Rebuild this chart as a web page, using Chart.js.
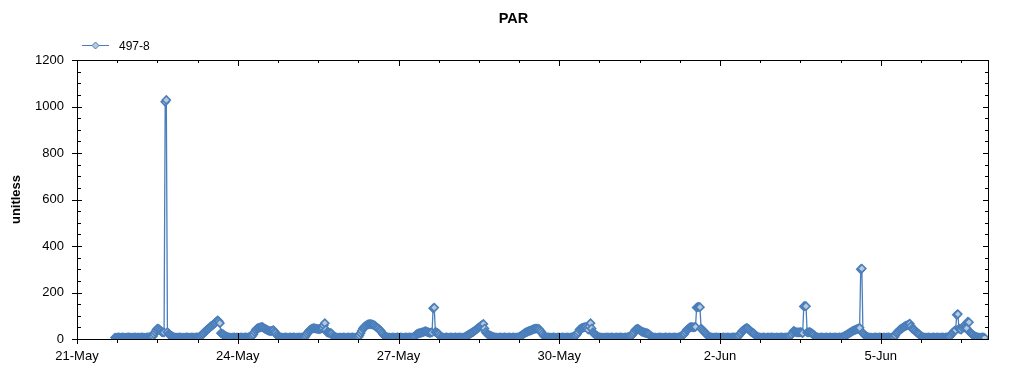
<!DOCTYPE html>
<html>
<head>
<meta charset="utf-8">
<script src="https://cdn.jsdelivr.net/npm/chart.js@4.4.1/dist/chart.umd.min.js"></script>
<style>
  html, body { margin: 0; padding: 0; background: #ffffff; }
  canvas { display: block; }
</style>
</head>
<body>
<canvas id="c" width="1024" height="375"></canvas>
<script>
// ---- data: half-hourly PAR readings (unitless), one array per day ----
// may21 starts at 17:00; every other day starts at 00:00; step = 30 min
const may21 = [6,5,6,7,6,5,6,7,6,5,6,6,7,6];
const may22 = [6,5,6,6,7,5,6,6,5,6,7,6, 6,5,6,7,6,8,8,9,
               12,20,30,38,45,44,40,35,30,28,28,1020, 1028,30,22,18,15,12,9,7,
               6,6,5,6,7,6,5,6];
const may23 = [5,6,7,6,6,5,6,7,6,5,6,7,6,7,
               10,14,18,22,28,33,38,42,45,50,55,58,62,66,70,75,80,76,68,25,22,20,16,12,10,8,
               7,6,5,6,6,7,5,6];
const may24 = [6,5,6,7,6,5,6,7,6,6,
               8,9,10,14,20,30,38,44,47,48,50,51,52,48,45,42,40,37,35,34,34,36,38,32,26,18,12,9,7,6,
               6,5,6,7,6,5,6,7];
const may25 = [5,6,7,6,5,6,6,7,5,6,7,6,
               8,14,22,30,35,40,43,45,47,46,45,44,42,43,44,46,48,58,68,40,28,27,26,25,24,16,10,8,
               7,6,5,6,6,5,6,7];
const may26 = [6,5,6,7,5,6,6,7,6,5,6,7,
               8,15,25,35,45,50,55,58,62,63,64,64,63,62,60,56,52,48,45,40,35,28,22,16,12,9,7,6,
               6,5,6,7,6,5,6,7];
const may27 = [6,5,7,6,5,6,6,7,5,6,7,6,6,7,
               10,15,20,22,24,25,26,28,30,32,34,32,30,28,26,27,28,132,135,30,28,25,22,15,8,7,
               6,5,6,7,6,5,6,7];
const may28 = [6,5,6,7,5,6,6,7,6,5,6,7,
               10,13,16,19,22,25,28,31,35,38,42,46,50,53,57,61,65,45,30,24,20,17,15,12,10,8,7,6,
               6,5,6,7,6,5,6,7];
const may29 = [6,5,6,7,6,5,6,7,5,6,6,7,
               8,12,15,18,22,25,28,30,33,35,36,38,40,42,44,45,45,44,42,36,30,22,15,11,8,7,7,6,
               6,5,6,7,6,5,6,7];
const may30 = [6,5,6,7,5,6,6,7,6,5,6,7,
               8,10,12,16,22,30,40,44,47,48,50,51,52,46,40,55,68,45,28,24,20,16,12,9,7,6,6,5,
               6,5,7,6,6,5,6,7];
const may31 = [6,5,6,7,5,6,6,7,6,5,6,7,6,7,
               8,10,12,16,22,30,38,42,44,42,38,35,32,30,28,26,25,24,22,17,12,9,7,6,6,5,
               5,6,7,6,6,5,6,7];
const jun01 = [6,5,6,7,5,6,6,7,6,5,6,7,
               8,11,15,18,22,30,38,42,46,50,52,51,50,51,52,135,137,138,137,45,40,35,30,25,20,15,10,8,
               7,6,5,6,6,7,5,6];
const jun02 = [6,5,6,7,5,6,6,7,6,5,6,7,6,7,6,6,
               10,15,22,28,35,38,42,45,48,45,40,35,30,27,25,20,15,11,8,7,
               6,5,6,7,6,5,6,7,5,6,7,6];
const jun03 = [6,5,6,7,5,6,6,7,6,5,6,7,6,7,
               10,15,20,28,35,32,30,29,28,29,30,28,25,140,142,141,28,29,30,28,25,22,18,12,8,7,
               6,5,6,7,6,5,6,7];
const jun04 = [6,5,6,7,5,6,6,7,6,5,6,7,6,7,
               8,11,14,17,20,23,26,29,32,35,37,39,41,43,45,48,300,303,25,20,15,11,8,7,6,6,
               6,5,6,7,6,5,6,7];
const jun05 = [6,5,6,7,5,6,6,7,6,5,6,7,
               8,15,25,30,35,40,43,46,50,53,56,58,60,63,66,55,45,42,40,34,28,25,22,17,12,9,7,6,
               6,5,6,7,6,5,6,7];
const jun06 = [6,5,6,7,5,6,6,7,6,5,6,7,
               6,8,12,18,25,30,35,38,104,107,45,42,40,48,55,50,48,46,75,72,28,24,20,16,12,10,8,7,
               6,5,6,7,6,5];

const dailySeries = [may21, may22, may23, may24, may25, may26, may27, may28, may29,
                     may30, may31, jun01, jun02, jun03, jun04, jun05, jun06];
const firstDayStartHour = 17;
const sampleStepHours = 0.5;
const seriesLabel = '497-8';
const chartTitle = 'PAR';
const yAxisTitle = 'unitless';
const xTickLabels = ['21-May', '24-May', '27-May', '30-May', '2-Jun', '5-Jun'];
const xMaxHours = 17 * 24;   // 21-May 00:00 .. 7-Jun 00:00
const xLabelStep = 72;       // every 3 days
const xMinorStep = 18;       // minor ticks
const yMax = 1200, yLabelStep = 200, yMinorStep = 50;

// ---- build points (x = hours since 21-May 00:00) ----
const points = [];
dailySeries.forEach((day, d) => {
  const start = d === 0 ? firstDayStartHour : 0;
  day.forEach((v, i) => { if (v !== null) points.push({ x: d * 24 + start + i * sampleStepHours, y: v }); });
});

const LINE = '#4a7ebb';
const FILL = '#b7c9da';
const FONT = '"Liberation Sans", Arial, sans-serif';

const decor = {
  id: 'decor',
  afterDraw(chart) {
    const ctx = chart.ctx;
    const a = chart.chartArea;
    const xs = chart.scales.x, ys = chart.scales.y;
    const L = a.left + 0.5, R = a.right + 0.5, T = a.top + 0.5, B = a.bottom + 0.5;
    ctx.save();
    ctx.strokeStyle = '#000';
    ctx.lineWidth = 1;
    ctx.beginPath();
    ctx.rect(L, T, R - L, B - T);
    for (let v = 0; v <= yMax; v += yMinorStep) {
      const py = Math.round(ys.getPixelForValue(v)) + 0.5;
      const major = v % yLabelStep === 0;
      if (major) {
        ctx.moveTo(a.left - 5, py); ctx.lineTo(a.left + 5, py);
        ctx.moveTo(a.right - 5, py); ctx.lineTo(a.right + 1, py);
      } else {
        ctx.moveTo(a.left, py); ctx.lineTo(a.left + 4, py);
        ctx.moveTo(a.right - 3, py); ctx.lineTo(a.right + 1, py);
      }
    }
    for (let v = 0; v <= xMaxHours; v += xMinorStep) {
      const px = Math.round(xs.getPixelForValue(v)) + 0.5;
      const major = v % xLabelStep === 0;
      if (major) {
        ctx.moveTo(px, a.bottom - 6); ctx.lineTo(px, a.bottom + 5);
        ctx.moveTo(px, a.top); ctx.lineTo(px, a.top + 6);
      } else {
        ctx.moveTo(px, a.bottom); ctx.lineTo(px, a.bottom + 4);
        ctx.moveTo(px, a.top); ctx.lineTo(px, a.top + 3);
      }
    }
    ctx.stroke();

    ctx.fillStyle = '#000';
    ctx.font = 'bold 14.5px ' + FONT;
    ctx.textAlign = 'center';
    ctx.textBaseline = 'alphabetic';
    ctx.fillText(chartTitle, 513.5, 22.5);

    ctx.strokeStyle = LINE;
    ctx.beginPath();
    ctx.moveTo(82, 45.5); ctx.lineTo(109, 45.5);
    ctx.stroke();
    const cx = 95.5, cy = 45.5, r = 3.5;
    ctx.beginPath();
    ctx.moveTo(cx - r, cy); ctx.lineTo(cx, cy - r); ctx.lineTo(cx + r, cy); ctx.lineTo(cx, cy + r);
    ctx.closePath();
    ctx.fillStyle = FILL; ctx.fill();
    ctx.strokeStyle = LINE; ctx.stroke();
    ctx.fillStyle = '#000';
    ctx.font = '12px ' + FONT;
    ctx.textAlign = 'left';
    ctx.fillText(seriesLabel, 119, 50);
    ctx.restore();
  }
};

new Chart(document.getElementById('c'), {
  type: 'line',
  data: {
    datasets: [{
      label: seriesLabel,
      data: points,
      borderColor: LINE,
      borderWidth: 1.3,
      pointStyle: 'rectRot',
      pointRadius: 4,
      pointBackgroundColor: FILL,
      pointBorderColor: LINE,
      pointBorderWidth: 1.6,
      tension: 0,
      fill: false
    }]
  },
  options: {
    responsive: false,
    animation: false,
    devicePixelRatio: 1,
    layout: { padding: { top: 60, right: 36, bottom: 0, left: 0 } },
    plugins: { legend: { display: false }, title: { display: false }, tooltip: { enabled: false } },
    scales: {
      x: {
        type: 'linear',
        min: 0,
        max: xMaxHours,
        afterFit: s => { s.height = 36; },
        grid: { display: false, drawTicks: false },
        border: { display: false },
        ticks: {
          stepSize: xLabelStep,
          autoSkip: false,
          maxRotation: 0,
          padding: 10,
          color: '#000',
          font: { family: FONT, size: 13 },
          callback: v => (v % xLabelStep === 0 && v / xLabelStep < xTickLabels.length) ? xTickLabels[v / xLabelStep] : ''
        }
      },
      y: {
        min: 0,
        max: yMax,
        afterFit: s => { s.width = 77; },
        grid: { display: false, drawTicks: false },
        border: { display: false },
        ticks: {
          stepSize: yLabelStep,
          padding: 13,
          color: '#000',
          font: { family: FONT, size: 13 },
          callback: v => String(v)
        },
        title: {
          display: true,
          text: yAxisTitle,
          color: '#000',
          font: { family: FONT, size: 13, weight: 'bold' },
          padding: { top: 9, bottom: 0 }
        }
      }
    }
  },
  plugins: [decor]
});
</script>
</body>
</html>
